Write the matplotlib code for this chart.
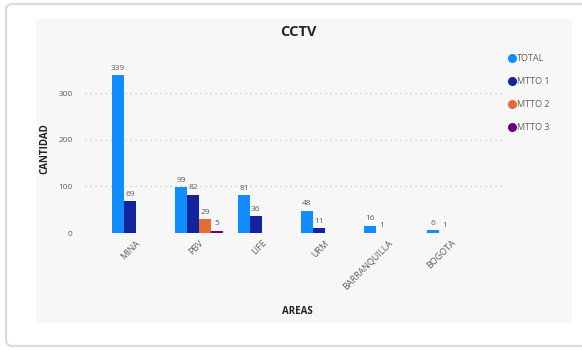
import numpy as np
import matplotlib.pyplot as plt
from matplotlib.patches import FancyBboxPatch, Rectangle
from matplotlib.lines import Line2D

# Datos por area
areas = ['MINA', 'PBV', 'LIFE', 'URM', 'BARRANQUILLA', 'BOGOTA']
total = [339, 99, 81, 48, 16, 6]
mtto_1 = [69, 82, 36, 11, 1, 1]
mtto_2 = [0, 29, 0, 0, 0, 0]
mtto_3 = [0, 5, 0, 0, 0, 0]

series = ['TOTAL', 'MTTO 1', 'MTTO 2', 'MTTO 3']
valores = [total, mtto_1, mtto_2, mtto_3]
colores = ['#118DFF', '#12239E', '#E66C37', '#6B007B']

plt.rcParams['font.family'] = ['Open Sans', 'DejaVu Sans']

W, H = 582, 350
fig = plt.figure(figsize=(W / 100, H / 100), dpi=100)
fig.patch.set_facecolor('white')

# Tarjeta de fondo
fondo = fig.add_axes([0, 0, 1, 1])
fondo.set_xlim(0, W)
fondo.set_ylim(H, 0)
fondo.axis('off')
fondo.add_patch(FancyBboxPatch((6, 4), 590, 342, boxstyle='round,pad=0,rounding_size=6',
                               facecolor='white', edgecolor='#dcdcdc', linewidth=1.6))
fondo.add_patch(Rectangle((36, 19), 536, 304, facecolor='#f7f7f7', edgecolor='none'))

# Grafico de barras
ax = fig.add_axes([85 / W, (H - 233) / H, 420 / W, 168 / H])
ax.set_facecolor('none')

x = np.arange(len(areas))
ancho = 0.19
for i, (nombre, vals, color) in enumerate(zip(series, valores, colores)):
    pos = x + (i - 1.5) * ancho
    ax.bar(pos, vals, width=ancho, color=color, label=nombre, zorder=3)
    for p, v in zip(pos, vals):
        if v > 0:
            ax.text(p, v + 7, str(v), ha='center', va='bottom', fontsize=6,
                    color='#605E5C')

ax.set_xlim(-0.81, 5.86)
ax.set_ylim(0, 360)
ax.set_yticks([0, 100, 200, 300])
ax.grid(axis='y', linestyle=(0, (1, 3)), color='#c4c4c4', linewidth=0.9, zorder=0)
for s in ax.spines.values():
    s.set_visible(False)
ax.tick_params(length=0, labelsize=6, labelcolor='#605E5C')
ax.tick_params(axis='y', pad=9)
ax.tick_params(axis='x', pad=4, labelsize=6.5)
ax.set_xticks(x)
ax.set_xticklabels(areas, rotation=45, ha='right', rotation_mode='anchor')

ax.set_ylabel('CANTIDAD', fontsize=7, fontweight='bold', color='#252423', labelpad=6)
fig.text(297 / W, 1 - 312 / H, 'AREAS', ha='center', va='center', fontsize=7,
         fontweight='bold', color='#252423')
fig.text(298 / W, 1 - 32 / H, 'CCTV', ha='center', va='center', fontsize=10.5,
         fontweight='bold', color='#252423')

# Leyenda con marcadores circulares
marcas = [Line2D([], [], linestyle='none', marker='o', markersize=5.5, color=c) for c in colores]
ax.legend(marcas, series, loc='upper left', bbox_to_anchor=(500 / W, 1 - 46 / H),
          bbox_transform=fig.transFigure, frameon=False, fontsize=6.5, handlelength=0.8,
          handletextpad=0.2, labelspacing=1.55, labelcolor='#605E5C')

fig.savefig('out.png', dpi=100)
